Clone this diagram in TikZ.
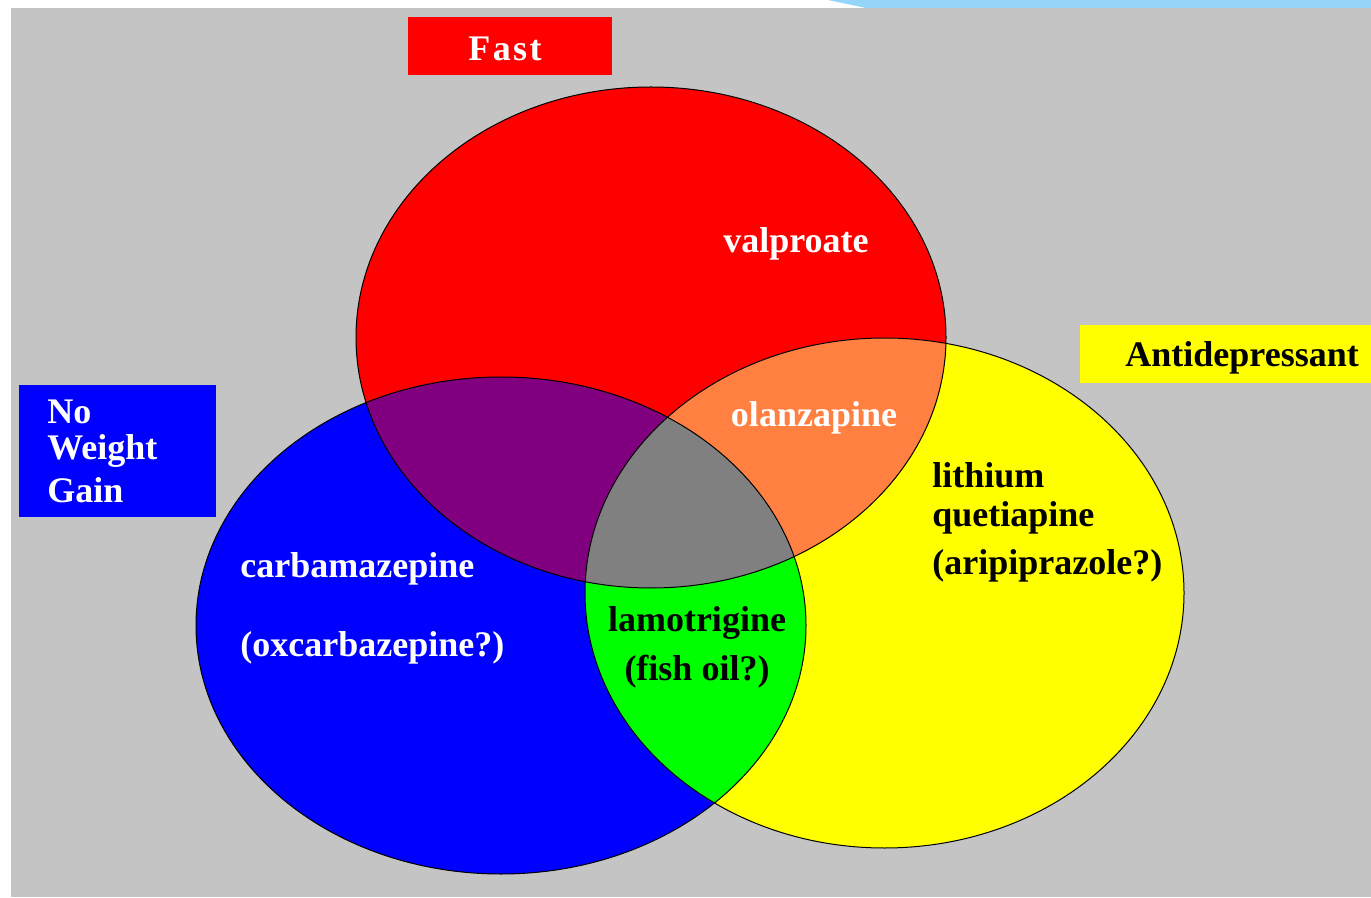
\documentclass[tikz,border=0pt]{standalone}
\usepackage{fontspec}
\setmainfont{Liberation Serif}
\definecolor{bggray}{HTML}{C4C4C4}
\definecolor{vred}{HTML}{FF0000}
\definecolor{vblue}{HTML}{0000FF}
\definecolor{vyellow}{HTML}{FFFF00}
\definecolor{vpurple}{HTML}{800080}
\definecolor{vorange}{HTML}{FF8040}
\definecolor{vgreen}{HTML}{00FF00}
\definecolor{vgray}{HTML}{808080}
\definecolor{skyblue}{HTML}{95D5FA}
\begin{document}
\begin{tikzpicture}[x=0.5pt,y=-0.5pt,
  lbl/.style={font=\fontsize{18}{20}\selectfont\bfseries, inner sep=0pt},
  wlbl/.style={lbl, text=white},
  blbl/.style={lbl, text=black},
  setline/.style={draw=black, line width=0.5pt}]
\useasboundingbox (0,0) rectangle (1371,898);
\fill[white] (0,0) rectangle (1371,898);
\fill[skyblue] (828,0) -- (1371,0) -- (1371,8) -- (866,8) -- cycle;
\fill[bggray] (11,8) rectangle (1371,897);
\def\Red{(651,337.5) ellipse [x radius=147.5pt, y radius=125.25pt]}
\def\Blue{(501,625.5) ellipse [x radius=152.5pt, y radius=124.25pt]}
\def\Yel{(884.5,593) ellipse [x radius=149.75pt, y radius=127.5pt]}
% base fills
\fill[vred] \Red;
\fill[vblue] \Blue;
\fill[vyellow] \Yel;
% pairwise intersections
\begin{scope}\clip \Red; \fill[vpurple] \Blue; \end{scope}
\begin{scope}\clip \Red; \fill[vorange] \Yel; \end{scope}
\begin{scope}\clip \Blue; \fill[vgreen] \Yel; \end{scope}
\begin{scope}\clip \Red; \clip \Blue; \fill[vgray] \Yel; \end{scope}
% outlines
\draw[setline] \Red;
\draw[setline] \Blue;
\draw[setline] \Yel;
% title boxes
\fill[vred] (408,17) rectangle (612,75);
\node[wlbl] (fast) at (505,49) {F\hspace{1.2pt}a\hspace{1.2pt}s\hspace{1.2pt}t};
\fill[vblue] (19,385) rectangle (216,517);
\node[wlbl, anchor=west] (no) at (47,412) {No};
\node[wlbl, anchor=west] (weight) at (47,451) {Weight};
\node[wlbl, anchor=west] (gain) at (47,490) {Gain};
\fill[vyellow] (1080,325) rectangle (1371,383);
\node[blbl, anchor=west] (anti) at (1125,358) {Antidepressant};
% labels inside the sets
\node[wlbl] (valp) at (796,244) {valproate};
\node[wlbl] (olan) at (814,418) {olanzapine};
\node[blbl, anchor=west] (lith) at (932,475) {lithium};
\node[blbl, anchor=west] (quet) at (932,518) {quetiapine};
\node[blbl, anchor=west] (arip) at (932,566) {(aripiprazole?)};
\node[wlbl, anchor=west] (carb) at (240,569) {carbamazepine};
\node[wlbl, anchor=west] (oxc) at (240,648) {(oxcarbazepine?)};
\node[blbl] (lamo) at (697,623) {lamotrigine};
\node[blbl] (fish) at (697,672) {(fish oil?)};
\end{tikzpicture}
\end{document}
